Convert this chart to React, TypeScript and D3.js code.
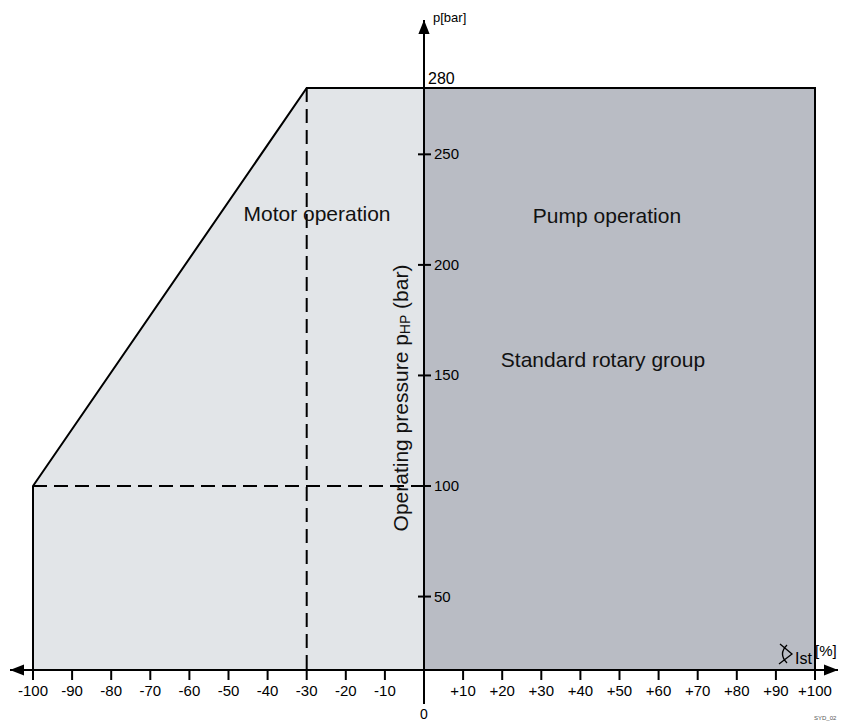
import { useEffect, useRef } from 'react';
import * as d3 from 'd3';

// operating range limits (swivel angle in %, pressure in bar)
const xTicks = [-100, -90, -80, -70, -60, -50, -40, -30, -20, -10, 10, 20, 30, 40, 50, 60, 70, 80, 90, 100];
const yTicks = [50, 100, 150, 200, 250];
const motorBoundary: [number, number][] = [[-100, 100], [-30, 280], [0, 280]];
const pumpRange = { xMin: 0, xMax: 100, pMax: 280 };
const cornerAngle = -30;
const cornerPressure = 100;

const W = 859;
const H = 722;
const FONT = 'Liberation Sans, Arial, sans-serif';
const NARROW = 'Liberation Sans Narrow, Arial Narrow, Liberation Sans, sans-serif';

const App = () => {
  const svgRef = useRef<SVGSVGElement>(null);

  useEffect(() => {
    if (!svgRef.current) return;
    const svg = d3.select(svgRef.current);
    svg.selectAll('*').remove();

    const x = d3.scaleLinear().domain([-100, 100]).range([33, 815]);
    const y = d3.scaleLinear().domain([100, 280]).range([486, 88]);
    const axisY = 670; // x axis is drawn below the 100 bar floor
    const x0 = x(0);

    const defs = svg.append('defs');
    defs.append('marker')
      .attr('id', 'arrow')
      .attr('viewBox', '0 0 10 10')
      .attr('refX', 10).attr('refY', 5)
      .attr('markerWidth', 14).attr('markerHeight', 14)
      .attr('markerUnits', 'userSpaceOnUse')
      .attr('orient', 'auto')
      .append('path')
      .attr('d', 'M0,1 L10,5 L0,9 Z')
      .attr('fill', '#000');

    // light area: motor operation
    const motorPoly: [number, number][] = [
      [x(-100), axisY],
      ...motorBoundary.map(d => [x(d[0]), y(d[1])] as [number, number]),
      [x0, axisY],
    ];
    svg.append('path')
      .attr('d', d3.line()(motorPoly) + 'Z')
      .attr('fill', '#e2e5e8');

    // dark area: pump operation
    svg.append('rect')
      .attr('x', x(pumpRange.xMin))
      .attr('y', y(pumpRange.pMax))
      .attr('width', x(pumpRange.xMax) - x(pumpRange.xMin))
      .attr('height', axisY - y(pumpRange.pMax))
      .attr('fill', '#b9bcc4');

    // dashed guides
    svg.append('line')
      .attr('x1', x(cornerAngle)).attr('x2', x(cornerAngle))
      .attr('y1', y(280)).attr('y2', axisY)
      .attr('stroke', '#000').attr('stroke-width', 2)
      .attr('stroke-dasharray', '14,7');
    svg.append('line')
      .attr('x1', x(-100)).attr('x2', x0)
      .attr('y1', y(cornerPressure)).attr('y2', y(cornerPressure))
      .attr('stroke', '#000').attr('stroke-width', 2)
      .attr('stroke-dasharray', '14,7');

    // boundary outline
    const outline: [number, number][] = [
      [x(-100), axisY],
      ...motorBoundary.map(d => [x(d[0]), y(d[1])] as [number, number]),
      [x(pumpRange.xMax), y(pumpRange.pMax)],
      [x(pumpRange.xMax), axisY],
    ];
    svg.append('path')
      .attr('d', d3.line()(outline))
      .attr('fill', 'none')
      .attr('stroke', '#000')
      .attr('stroke-width', 2)
      .attr('stroke-linejoin', 'miter');

    // x axis, arrow on both ends
    svg.append('line')
      .attr('x1', 838).attr('x2', 10)
      .attr('y1', axisY).attr('y2', axisY)
      .attr('stroke', '#000').attr('stroke-width', 2)
      .attr('marker-end', 'url(#arrow)');
    svg.append('line')
      .attr('x1', 10).attr('x2', 838)
      .attr('y1', axisY).attr('y2', axisY)
      .attr('stroke', '#000').attr('stroke-width', 2)
      .attr('marker-end', 'url(#arrow)');

    svg.selectAll('.xtick')
      .data(xTicks)
      .enter()
      .append('line')
      .attr('x1', d => x(d)).attr('x2', d => x(d))
      .attr('y1', axisY).attr('y2', axisY + 10)
      .attr('stroke', '#000').attr('stroke-width', 2);

    svg.selectAll('.xlabel')
      .data(xTicks)
      .enter()
      .append('text')
      .attr('x', d => x(d))
      .attr('y', axisY + 26)
      .attr('text-anchor', 'middle')
      .attr('font-family', FONT)
      .attr('font-size', 15)
      .text(d => (d > 0 ? `+${d}` : `${d}`));

    // y axis
    svg.append('line')
      .attr('x1', x0).attr('x2', x0)
      .attr('y1', 704).attr('y2', 20)
      .attr('stroke', '#000').attr('stroke-width', 2)
      .attr('marker-end', 'url(#arrow)');

    svg.selectAll('.ytick')
      .data(yTicks)
      .enter()
      .append('line')
      .attr('x1', x0 - 6).attr('x2', x0 + 7)
      .attr('y1', d => y(d)).attr('y2', d => y(d))
      .attr('stroke', '#000').attr('stroke-width', 2);

    svg.selectAll('.ylabel')
      .data(yTicks)
      .enter()
      .append('text')
      .attr('x', x0 + 10)
      .attr('y', d => y(d) + 5)
      .attr('font-family', FONT)
      .attr('font-size', 15)
      .text(d => d);

    svg.append('text')
      .attr('x', x0 + 4).attr('y', y(280) - 4)
      .attr('font-family', NARROW)
      .attr('font-size', 16)
      .text('280');

    svg.append('text')
      .attr('x', x0 + 9).attr('y', 22)
      .attr('font-family', NARROW)
      .attr('font-size', 13)
      .text('p[bar]');

    svg.append('text')
      .attr('x', x0).attr('y', 719)
      .attr('text-anchor', 'middle')
      .attr('font-family', FONT)
      .attr('font-size', 14)
      .text('0');

    // axis title, rotated
    const yt = svg.append('text')
      .attr('transform', `translate(${x0 - 16},${398}) rotate(-90)`)
      .attr('text-anchor', 'middle')
      .attr('font-family', FONT)
      .attr('font-size', 21)
      .attr('fill', '#111');
    yt.append('tspan').text('Operating pressure p');
    yt.append('tspan').attr('font-size', 14).attr('dy', 2).text('HP');
    yt.append('tspan').attr('dy', -2).text(' (bar)');

    // region labels
    const labels = [
      { text: 'Motor operation', px: 317, py: 221 },
      { text: 'Pump operation', px: 607, py: 223 },
      { text: 'Standard rotary group', px: 603, py: 367 },
    ];
    svg.selectAll('.region')
      .data(labels)
      .enter()
      .append('text')
      .attr('x', d => d.px).attr('y', d => d.py)
      .attr('text-anchor', 'middle')
      .attr('font-family', FONT)
      .attr('font-size', 21)
      .attr('fill', '#111')
      .text(d => d.text);

    // swivel angle symbol + unit
    svg.append('path')
      .attr('d', 'M780,644 L792,654 L779,664 M787,645 Q778,654 787,663')
      .attr('fill', 'none')
      .attr('stroke', '#000')
      .attr('stroke-width', 1.3);
    svg.append('text')
      .attr('x', 795).attr('y', 664)
      .attr('font-family', FONT)
      .attr('font-size', 16)
      .text('Ist');
    svg.append('text')
      .attr('x', 815).attr('y', 656)
      .attr('font-family', FONT)
      .attr('font-size', 15)
      .text('[%]');

    svg.append('text')
      .attr('x', 814).attr('y', 720)
      .attr('font-family', FONT)
      .attr('font-size', 6)
      .attr('fill', '#555')
      .text('SYD_02');
  }, []);

  return (
    <div style={{ position: 'absolute', left: 0, top: 0 }}>
      <svg ref={svgRef} width={W} height={H} style={{ display: 'block', background: '#fff' }} />
    </div>
  );
};

export default App;
